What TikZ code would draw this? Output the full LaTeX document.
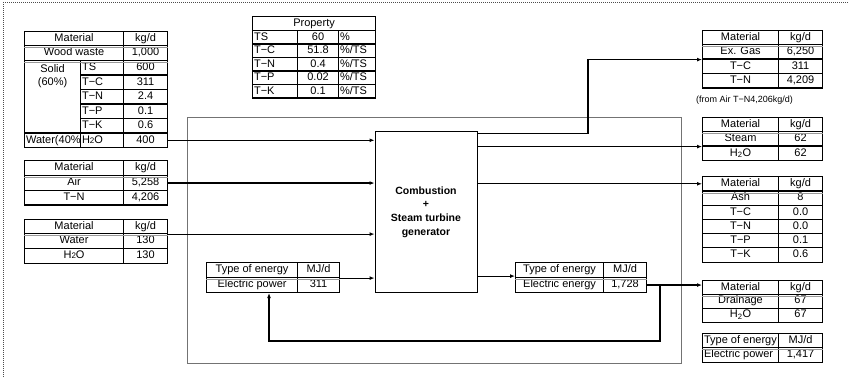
\documentclass[tikz,border=0pt]{standalone}
\usepackage{fontspec}
\setmainfont{Liberation Sans}
\usetikzlibrary{arrows.meta}
\tikzstyle{cell}=[draw,fill=white,rectangle,line width=1.1pt,anchor=north west,inner xsep=1.5pt,inner ysep=0pt,text height=7.8pt,text depth=2.2pt,font=\tabfont]
\tikzstyle{block}=[draw,fill=white,rectangle,line width=1pt,align=center,font=\boxfont]
\tikzstyle{flow}=[-{Latex[length=5pt,width=4pt]},line width=1.2pt]
\tikzstyle{dbl}=[draw=black!40,line width=0.8pt]
\newcommand{\tabfont}{\fontsize{11}{13}\selectfont}
\newcommand{\boxfont}{\fontsize{10.5}{13.7}\selectfont\bfseries}
\newcommand{\notefont}{\fontsize{9}{11}\selectfont}
\newcommand{\wsub}{H{\fontsize{8}{8}\selectfont 2}O}
\newcommand{\pts}{\%/TS}
% \tcell[align]{name}{x}{y}{width}{height}{text}
\newcommand{\tcell}[7][c]{\node[cell,minimum height=#6] (#2) at (#3,#4) {\makebox[\dimexpr#5pt-3pt\relax][#1]{#7}};}

\begin{document}
\begin{tikzpicture}[x=1pt,y=-1pt]
  \useasboundingbox (0,0) rectangle (852,377);
  \draw[black!70,line width=1pt,dash pattern=on 1pt off 1pt] (3,377) -- (3,3) -- (848,3);
  \draw[black!55,line width=0.8pt] (187,117) rectangle (681,363);

  % wood waste
  \tcell{wmat}{24}{31}{99}{14}{Material}
  \tcell{wkg}{123}{31}{44}{14}{kg/d}
  \tcell{wname}{24}{45}{99}{15}{Wood waste}
  \tcell{wval}{123}{45}{44}{15}{1,000}
  \node[cell,minimum width=56,minimum height=72.5] (wsolid) at (24,60) {};
  \node[align=center,font=\tabfont] (wsolidtxt) at ([yshift=-16.5pt]wsolid.north) {Solid\\(60\%)};
  \foreach \lab/\val [count=\i from 0] in {TS/600, T−C/311, T−N/2.4, T−P/0.1, T−K/0.6}{
    \tcell[l]{wsub\i}{80}{60+14.5*\i}{43}{14.5}{\lab}
    \tcell{wsv\i}{123}{60+14.5*\i}{44}{14.5}{\val}
  }
  \tcell[l]{wwater}{24}{132.5}{56}{14.5}{Water(40\%}
  \tcell[l]{wh2o}{80}{132.5}{43}{14.5}{\wsub}
  \tcell{wh2oval}{123}{132.5}{44}{14.5}{400}

  % air
  \tcell{amat}{24}{160}{99}{15}{Material}
  \tcell{akg}{123}{160}{44}{15}{kg/d}
  \tcell{aname}{24}{175}{99}{15}{Air}
  \tcell{aval}{123}{175}{44}{15}{5,258}
  \tcell{anname}{24}{190}{99}{14.5}{T−N}
  \tcell{anval}{123}{190}{44}{14.5}{4,206}

  % water
  \tcell{tmat}{24}{219}{99}{14}{Material}
  \tcell{tkg}{123}{219}{44}{14}{kg/d}
  \tcell{tname}{24}{233}{99}{15}{Water}
  \tcell{tval}{123}{233}{44}{15}{130}
  \tcell{th2o}{24}{248}{99}{14.5}{\wsub}
  \tcell{th2oval}{123}{248}{44}{14.5}{130}

  % property
  \tcell{pmat}{252}{16}{123}{14}{Property}
  \foreach \lab/\val/\unit [count=\i from 0] in {TS/60/\%, T−C/51.8/\pts, T−N/0.4/\pts, T−P/0.02/\pts, T−K/0.1/\pts}{
    \tcell[l]{pname\i}{252}{30+13.5*\i}{45}{13.5}{\lab}
    \tcell{pval\i}{297}{30+13.5*\i}{41}{13.5}{\val}
    \tcell[l]{punit\i}{338}{30+13.5*\i}{37}{13.5}{\unit}
  }

  % plant
  \node[block,minimum width=102,minimum height=160] (plant) at (426,212) {Combustion\\+\\Steam turbine\\generator};

  % electric power in / electric energy out
  \tcell{eptype}{206}{262}{91}{15}{Type of energy}
  \tcell{epmj}{297}{262}{42}{15}{MJ/d}
  \tcell{epname}{206}{277}{91}{15}{Electric power}
  \tcell{epval}{297}{277}{42}{15}{311}
  \tcell{eetype}{515}{262}{88}{15}{Type of energy}
  \tcell{eemj}{603}{262}{43}{15}{MJ/d}
  \tcell{eename}{515}{277}{88}{15}{Electric energy}
  \tcell{eeval}{603}{277}{43}{15}{1,728}

  % exhaust gas
  \tcell{gmat}{702}{30}{76}{14}{Material}
  \tcell{gkg}{778}{30}{44}{14}{kg/d}
  \tcell{gname}{702}{44}{76}{14.5}{Ex. Gas}
  \tcell{gval}{778}{44}{44}{14.5}{6,250}
  \tcell{gcname}{702}{58.5}{76}{14.5}{T−C}
  \tcell{gcval}{778}{58.5}{44}{14.5}{311}
  \tcell{gnname}{702}{73}{76}{14.5}{T−N}
  \tcell{gnval}{778}{73}{44}{14.5}{4,209}
  \node[font=\notefont,anchor=west,inner sep=0pt] (gnote) at (696,100) {(from Air T−N4,206kg/d)};

  % steam
  \tcell{smat}{702}{117}{76}{14}{Material}
  \tcell{skg}{778}{117}{44}{14}{kg/d}
  \tcell{sname}{702}{131}{76}{14.5}{Steam}
  \tcell{sval}{778}{131}{44}{14.5}{62}
  \tcell{sh2o}{702}{145.5}{76}{14.5}{H\textsubscript{2}O}
  \tcell{sh2oval}{778}{145.5}{44}{14.5}{62}

  % ash
  \tcell{xmat}{702}{176}{76}{14.5}{Material}
  \tcell{xkg}{778}{176}{44}{14.5}{kg/d}
  \foreach \lab/\val [count=\i from 0] in {Ash/8, T−C/0.0, T−N/0.0, T−P/0.1, T−K/0.6}{
    \tcell{xname\i}{702}{190.5+14.2*\i}{76}{14.2}{\lab}
    \tcell{xval\i}{778}{190.5+14.2*\i}{44}{14.2}{\val}
  }

  % drainage
  \tcell{dmat}{702}{280}{76}{13.5}{Material}
  \tcell{dkg}{778}{280}{44}{13.5}{kg/d}
  \tcell{dname}{702}{293.5}{76}{14}{Drainage}
  \tcell{dval}{778}{293.5}{44}{14}{67}
  \tcell{dh2o}{702}{307.5}{76}{14}{H\textsubscript{2}O}
  \tcell{dh2oval}{778}{307.5}{44}{14}{67}

  % electric power out
  \tcell[l]{otype}{702}{333}{76}{14}{Type of energy}
  \tcell{omj}{778}{333}{44}{14}{MJ/d}
  \tcell[l]{oname}{702}{347}{76}{15}{Electric power}
  \tcell{oval}{778}{347}{44}{15}{1,417}

  % header rules
  \foreach \a/\b in {wmat/wkg, wname/wval, amat/akg, tmat/tkg, eptype/epmj, eetype/eemj, gmat/gkg, smat/skg, xmat/xkg, dmat/dkg, otype/omj}
    \draw[dbl] ([yshift=-1.4pt]\a.south west) -- ([yshift=-1.4pt]\b.south east);

  % flows in
  \draw[flow] (wh2oval.east) -- (wh2oval.east -| plant.west);
  \draw[flow] (aval.east) -- (aval.east -| plant.west);
  \draw[flow] (tkg.south east) -- (tkg.south east -| plant.west);
  \draw[flow] (epmj.south east) -- (epmj.south east -| plant.west);

  % flows out
  \coordinate (gasout) at ([yshift=-2pt]plant.north east);
  \coordinate (gasturn) at (588,0);
  \draw[flow] (gasout) -| (gasturn |- gname.south west) -- (gname.south west);
  \draw[flow] (sname.south west -| plant.east) -- (sname.south west);
  \draw[flow] (xmat.west -| plant.east) -- (xmat.west);
  \coordinate (eein) at ([yshift=2pt]eetype.south west);
  \draw[flow] (eein -| plant.east) -- (eein);
  \draw[flow] (eeval.east) -- (eeval.east -| dmat.west);

  % power fed back
  \coordinate (fbturn) at (660,341);
  \coordinate (fbend) at (269,0);
  \draw[flow,line width=1.5pt] (eeval.east -| fbturn) -- (fbturn) -| (fbend |- epname.south);
\end{tikzpicture}
\end{document}
